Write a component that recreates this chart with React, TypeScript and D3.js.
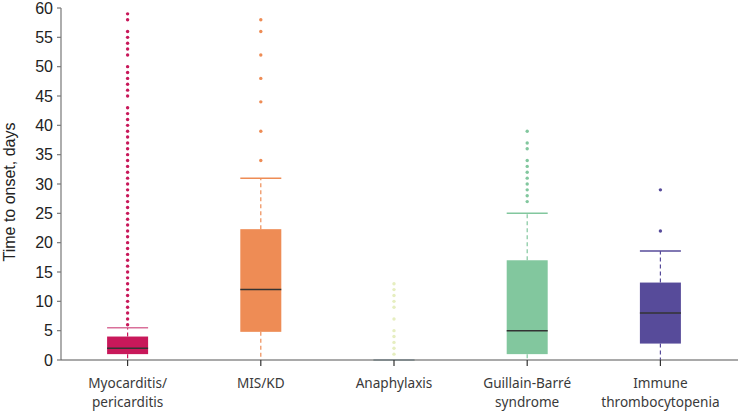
import React from "react";
import * as d3 from "d3";

const categories = ["Myocarditis/\npericarditis", "MIS/KD", "Anaphylaxis", "Guillain-Barré\nsyndrome", "Immune\nthrombocytopenia"];
const q1 = [1, 4.8, 0, 1, 2.8];
const medians = [2, 12, 0, 5, 8];
const q3 = [4, 22.3, 0, 17, 13.2];
const whiskerLow = [0, 0, 0, 0, 0];
const whiskerHigh = [5.5, 31, 0, 25, 18.6];
const myoOutliers = [6, 7, 8, 9, 10, 11, 12, 13, 14, 15, 16, 17, 18, 19, 20, 21, 22, 23, 24, 25, 26, 27, 28, 29, 30, 31, 32, 33, 34, 35, 36, 37, 38, 39, 40, 41, 42, 43, 45, 46, 47, 48, 49, 50, 52, 53, 54, 55, 56, 58, 59];
const misOutliers = [34, 39, 44, 48, 52, 56, 58];
const anaOutliers = [1, 2, 3, 4, 5, 7, 9, 10, 11, 12, 13];
const gbsOutliers = [27, 28, 29, 30, 31, 32, 33, 34, 36, 37, 39];
const itpOutliers = [22, 29];
const outliers = [myoOutliers, misOutliers, anaOutliers, gbsOutliers, itpOutliers];
const yTicks = [0, 5, 10, 15, 20, 25, 30, 35, 40, 45, 50, 55, 60];

const colors = ["#c8185a", "#ee8c55", "#e6eec0", "#82c79e", "#574b9a"];
const capColors = ["#d9709a", "#ee8c55", "#e6eec0", "#82c79e", "#574b9a"];

export default function App() {
  const width = 738, height = 411;
  const x0 = 61, x1 = 727, yTop = 8, yBot = 360;
  const x = d3.scaleBand<number>().domain(d3.range(categories.length)).range([x0, x1]).padding(0);
  const y = d3.scaleLinear().domain([0, 60]).range([yBot, yTop]);
  const bw = 41;
  return (
    <svg width={width} height={height} style={{ position: "absolute", left: 0, top: 0, background: "#fff" }}>
      {/* y axis */}
      <line x1={x0} x2={x0} y1={yTop} y2={yBot} stroke="#777" strokeWidth={1.2} />
      {yTicks.map((t) => (
        <g key={t}>
          <line x1={x0 - 4} x2={x0} y1={y(t)} y2={y(t)} stroke="#777" strokeWidth={1.2} />
          <text x={x0 - 8} y={y(t)} dy="0.35em" textAnchor="end" fontFamily="Liberation Sans, Arial, sans-serif" fontSize={16} fill="#222">{t}</text>
        </g>
      ))}
      <text transform={`translate(15,${(yTop + yBot) / 2 + 8}) rotate(-90)`} textAnchor="middle" fontFamily="Liberation Sans, Arial, sans-serif" fontSize={16} fill="#222">Time to onset, days</text>
      {/* boxes */}
      {categories.map((c, i) => {
        const cx = (x(i) as number) + x.bandwidth() / 2;
        const col = colors[i];
        return (
          <g key={i}>
            <line x1={cx} x2={cx} y1={y(q3[i])} y2={y(whiskerHigh[i])} stroke={col} strokeWidth={1.2} strokeDasharray="4,3" />
            <line x1={cx} x2={cx} y1={y(q1[i])} y2={y(whiskerLow[i])} stroke={col} strokeWidth={1.2} strokeDasharray="4,3" />
            <line x1={cx - bw / 2} x2={cx + bw / 2} y1={y(whiskerHigh[i])} y2={y(whiskerHigh[i])} stroke={capColors[i]} strokeWidth={1.5} />
            <rect x={cx - bw / 2} y={y(q3[i])} width={bw} height={Math.max(0.8, y(q1[i]) - y(q3[i]))} fill={col} />
            <line x1={cx - bw / 2} x2={cx + bw / 2} y1={y(medians[i])} y2={y(medians[i])} stroke={i === 2 ? "#9fb3c8" : "#333"} strokeWidth={1.5} />
            {outliers[i].map((v, k) => (
              <circle key={k} cx={cx} cy={y(v)} r={1.7} fill={col} />
            ))}
          </g>
        );
      })}
      {/* x axis */}
      <line x1={x0} x2={738} y1={yBot} y2={yBot} stroke="#555" strokeWidth={1.2} />
      {categories.map((c, i) => {
        const cx = (x(i) as number) + x.bandwidth() / 2;
        const lines = c.split("\n");
        return (
          <g key={i}>
            <line x1={cx} x2={cx} y1={yBot} y2={yBot + 6} stroke="#333" strokeWidth={1.2} />
            {lines.map((l, k) => (
              <text key={k} x={cx} y={388 + k * 18.5} textAnchor="middle" fontFamily="Noto Sans, Open Sans, sans-serif" fontSize={13.6} fill="#3a3a3a">{l}</text>
            ))}
          </g>
        );
      })}
    </svg>
  );
}
